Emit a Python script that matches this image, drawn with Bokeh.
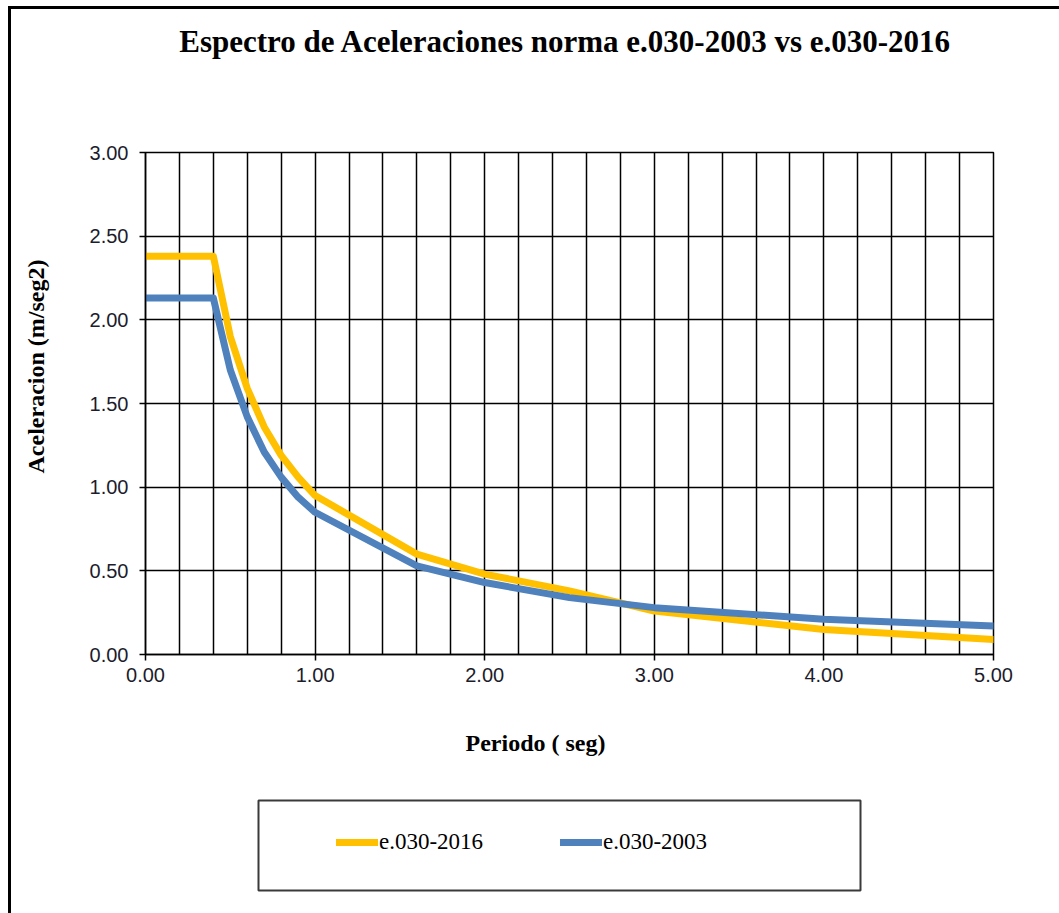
from math import pi

from bokeh.plotting import figure
from bokeh.layouts import column, row
from bokeh.models import (Range1d, FixedTicker, SingleIntervalTicker, NumeralTickFormatter,
                          Label, BoxAnnotation, Legend, LegendItem)
from bokeh.embed import file_html
from bokeh.resources import INLINE

# Spectral acceleration (m/seg2) against period (seg)
periodo = [0.0, 0.1, 0.2, 0.3, 0.4, 0.5, 0.6, 0.7, 0.8, 0.9, 1.0, 1.6, 2.0, 2.5, 3.0, 4.0, 5.0]
sa_2016 = [2.38, 2.38, 2.38, 2.38, 2.38, 1.90, 1.59, 1.36, 1.19, 1.06, 0.95, 0.60, 0.48, 0.38, 0.26, 0.15, 0.09]
sa_2003 = [2.13, 2.13, 2.13, 2.13, 2.13, 1.70, 1.42, 1.21, 1.06, 0.94, 0.85, 0.53, 0.43, 0.34, 0.28, 0.21, 0.17]

x_ticks = [0, 1, 2, 3, 4, 5]
y_ticks = [0.0, 0.5, 1.0, 1.5, 2.0, 2.5, 3.0]

titulo = "Espectro de Aceleraciones norma e.030-2003 vs e.030-2016"
eje_x = "Periodo  ( seg)"
eje_y = "Aceleracion (m/seg2)"
series = ["e.030-2016", "e.030-2003"]

SERIF = "Liberation Serif"
SANS = "Liberation Sans"
YELLOW = "#FFC000"
BLUE = "#4F81BD"

# page geometry (pixels from the window's top-left corner)
PAGE_W, PAGE_H = 1059, 913
OX, OY = 11, 9              # inside of the 3px page rule
HDR_BOTTOM = 110            # header strip ends here
FOOT_TOP = 694              # footer strip starts here
YSTRIP_RIGHT = 60           # left strip ends here
FL, FR, FT, FB = 145, 993, 152, 654   # plot area


def strip(x0, x1, y0, y1):
    """A bare figure whose frame spans the given page rectangle, in page pixels."""
    f = figure(width=x1 - x0, height=y1 - y0, output_backend="svg", toolbar_location=None,
               x_range=Range1d(x0, x1), y_range=Range1d(y1, y0),
               x_axis_location=None, y_axis_location=None, min_border=0,
               background_fill_color="white", border_fill_color="white")
    f.grid.visible = False
    f.outline_line_color = None
    f.frame_align = False
    return f


# ---------------------------------------------------------------- header
hdr = strip(OX, PAGE_W, OY, HDR_BOTTOM)
hdr.add_layout(Label(x=565, y=41, text=titulo, text_align="center", text_baseline="middle",
                     text_font=SERIF, text_font_style="bold", text_font_size="31px",
                     text_color="black"))

# ---------------------------------------------------------------- y title strip
ys = strip(OX, YSTRIP_RIGHT, HDR_BOTTOM, FOOT_TOP)
ys.add_layout(Label(x=35, y=366, text=eje_y, angle=pi / 2, text_align="center",
                    text_baseline="middle", text_font=SERIF, text_font_style="bold",
                    text_font_size="24px", text_color="black"))

# ---------------------------------------------------------------- main chart
p = figure(width=PAGE_W - YSTRIP_RIGHT, height=FOOT_TOP - HDR_BOTTOM, output_backend="svg",
           toolbar_location=None, x_range=Range1d(0, 5), y_range=Range1d(0, 3),
           min_border_left=FL - YSTRIP_RIGHT, min_border_right=PAGE_W - FR,
           min_border_top=FT - HDR_BOTTOM, min_border_bottom=FOOT_TOP - FB,
           background_fill_color="white", border_fill_color="white")
p.frame_align = False
p.outline_line_color = "black"
p.outline_line_width = 1.5

for ax in (p.xaxis[0], p.yaxis[0]):
    ax.axis_line_color = "black"
    ax.axis_line_width = 1.5
    ax.major_tick_line_color = "black"
    ax.major_tick_line_width = 1.5
    ax.major_tick_out = 6
    ax.major_tick_in = 0
    ax.minor_tick_line_color = None
    ax.major_label_text_font = SANS
    ax.major_label_text_font_size = "20px"
    ax.major_label_text_color = "#1c1c2c"
    ax.formatter = NumeralTickFormatter(format="0.00")

p.xaxis[0].ticker = FixedTicker(ticks=x_ticks)
p.xaxis[0].major_label_standoff = 7
p.yaxis[0].ticker = FixedTicker(ticks=y_ticks)
p.yaxis[0].major_label_standoff = 11

# vertical grid every 0.2 s, horizontal grid on the 0.5 ticks
p.xgrid.ticker = SingleIntervalTicker(interval=0.2, num_minor_ticks=0)
p.ygrid.ticker = FixedTicker(ticks=y_ticks)
for g in (p.xgrid[0], p.ygrid[0]):
    g.grid_line_color = "black"
    g.grid_line_width = 1.5
    g.grid_line_alpha = 1.0

p.line(periodo, sa_2016, line_color=YELLOW, line_width=7, line_join="round", line_cap="round")
p.line(periodo, sa_2003, line_color=BLUE, line_width=7, line_join="round", line_cap="round")

# ---------------------------------------------------------------- footer: x title + legend
foot = strip(OX, PAGE_W, FOOT_TOP, PAGE_H)
foot.add_layout(Label(x=538, y=742, text=eje_x, text_align="center", text_baseline="middle",
                      text_font=SERIF, text_font_style="bold", text_font_size="24px",
                      text_color="black"))
foot.add_layout(BoxAnnotation(left=258, right=860, top=800, bottom=890, fill_alpha=0,
                              line_color="#3a3a3a", line_alpha=1.0, line_width=2))

# legend keys reuse the series; hidden here, they only lend their style to the legend
k16 = foot.line(periodo, sa_2016, line_color=YELLOW, line_width=7, line_cap="round", visible=False)
k03 = foot.line(periodo, sa_2003, line_color=BLUE, line_width=7, line_cap="round", visible=False)
legend = Legend(items=[LegendItem(label=series[0], renderers=[k16]),
                       LegendItem(label=series[1], renderers=[k03])],
                orientation="horizontal", location=(336 - OX, PAGE_H - 843 - 12),
                glyph_width=42, glyph_height=24, label_height=24, label_standoff=1,
                label_width=170, spacing=11, padding=0, margin=0,
                border_line_alpha=0, background_fill_alpha=0,
                label_text_font=SERIF, label_text_font_size="23px", label_text_color="black")
foot.add_layout(legend)

page = column(hdr, row(ys, p, spacing=0), foot, spacing=0,
              styles={"margin-left": "8px", "margin-top": "6px",
                      "border-left": "3px solid black", "border-top": "3px solid black"})

open("out.html", "w").write(file_html(page, INLINE))
